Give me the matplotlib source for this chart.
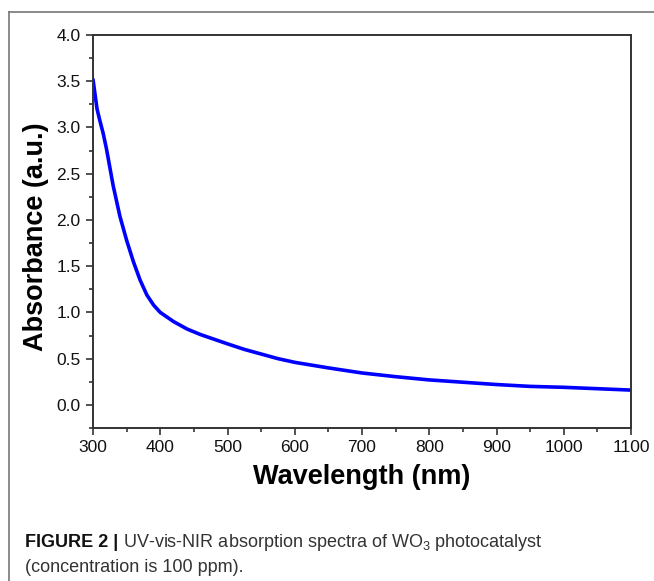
import matplotlib
matplotlib.use("Agg")
import matplotlib.pyplot as plt
from matplotlib.lines import Line2D
from matplotlib.ticker import MultipleLocator

wavelength_nm = [300, 303, 306, 310, 315, 320, 325, 330, 340, 350, 360, 370, 380, 390, 400,
                 420, 440, 460, 480, 500, 525, 550, 575, 600, 650, 700, 750, 800, 850,
                 900, 950, 1000, 1050, 1100]
absorbance = [3.52, 3.36, 3.20, 3.08, 2.94, 2.77, 2.57, 2.37, 2.04, 1.78, 1.55, 1.35, 1.19, 1.08, 1.00,
              0.90, 0.82, 0.76, 0.71, 0.66, 0.60, 0.55, 0.50, 0.46, 0.40, 0.345, 0.305, 0.27, 0.245,
              0.22, 0.20, 0.19, 0.175, 0.16]
x_ticks = [300, 400, 500, 600, 700, 800, 900, 1000, 1100]
y_ticks = [0.0, 0.5, 1.0, 1.5, 2.0, 2.5, 3.0, 3.5, 4.0]

caption_bold = 'FIGURE 2 |'
caption_line1 = ' UV-vis-NIR absorption spectra of WO$_3$ photocatalyst'
caption_line2 = '(concentration is 100 ppm).'

plt.rcParams['font.family'] = ['Liberation Sans', 'DejaVu Sans']
plt.rcParams['mathtext.fontset'] = 'custom'
plt.rcParams['mathtext.rm'] = 'Liberation Sans'
plt.rcParams['mathtext.it'] = 'Liberation Sans'
plt.rcParams['mathtext.bf'] = 'Liberation Sans:bold'
plt.rcParams['mathtext.default'] = 'rm'

fig = plt.figure(figsize=(6.54, 5.81), dpi=100)
ax = fig.add_axes([93/654, 1-428/581, (631-93)/654, (428-35)/581])

ax.plot(wavelength_nm, absorbance, color='#0000FF', lw=2.6, solid_capstyle='round',
        solid_joinstyle='round')

ax.set_xlim(300, 1100)
ax.set_ylim(-0.25, 4.0)
ax.set_xticks(x_ticks)
ax.set_yticks(y_ticks)
ax.set_yticklabels([f"{v:.1f}" for v in y_ticks])
ax.xaxis.set_minor_locator(MultipleLocator(50))
ax.yaxis.set_minor_locator(MultipleLocator(0.25))

spine_col = '#333333'
for s in ax.spines.values():
    s.set_color(spine_col)
    s.set_linewidth(1.4)
ax.tick_params(which='both', direction='out', color=spine_col, width=1.2,
               top=False, right=False)
ax.tick_params(which='major', length=5, labelsize=12.5, pad=4, labelcolor='#111111')
ax.tick_params(which='minor', length=3)

ax.set_xlabel('Wavelength (nm)', fontsize=19.5, fontweight='bold', labelpad=6)
ax.set_ylabel('Absorbance (a.u.)', fontsize=19.5, fontweight='bold', labelpad=6)
ax.yaxis.set_label_coords(-0.081, 0.487)

# figure frame (top and left border lines)
fig.add_artist(Line2D([9/654, 1.0], [1-12/581, 1-12/581], transform=fig.transFigure,
                      color='#777777', lw=1.2))
fig.add_artist(Line2D([9/654, 9/654], [0, 1-12/581], transform=fig.transFigure,
                      color='#777777', lw=1.2))

# caption
cap_fs = 13
x0 = 25/654
tb = fig.text(x0, 1-547/581, caption_bold, fontsize=cap_fs, fontweight='bold',
              va='baseline', ha='left', color='#111111')
fig.canvas.draw()
r = fig.canvas.get_renderer()
bb = tb.get_window_extent(r)
fig.text(bb.x1/654, 1-547/581, caption_line1, fontsize=cap_fs, va='baseline', ha='left',
         color='#333333')
fig.text(x0, 1-572/581, caption_line2, fontsize=cap_fs, va='baseline', ha='left',
         color='#333333')

plt.savefig('out.png', dpi=100)
